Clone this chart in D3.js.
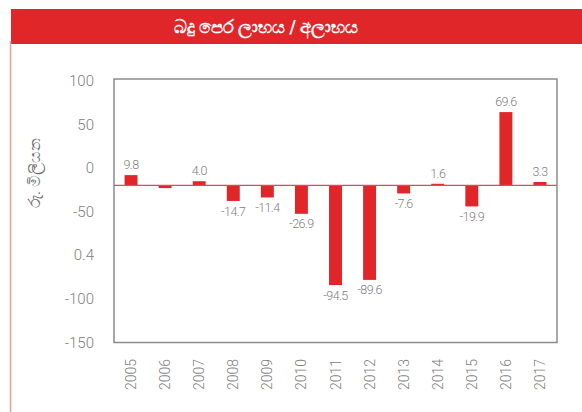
<!DOCTYPE html>
<html>
<head>
<meta charset="utf-8">
<script src="https://cdn.jsdelivr.net/npm/d3@7"></script>
<style>
  html, body { margin: 0; padding: 0; background: #fff; }
  svg { display: block; font-family: Roboto, "Noto Sans", sans-serif; }
</style>
</head>
<body>
<div id="chart"></div>
<script>
// Profit / loss before tax, Rs. million
const years = ["2005", "2006", "2007", "2008", "2009", "2010", "2011", "2012", "2013", "2014", "2015", "2016", "2017"];
const values = [9.8, -2.5, 4.0, -14.7, -11.4, -26.9, -94.5, -89.6, -7.6, 1.6, -19.9, 69.6, 3.3];
const valueLabels = ["9.8", "", "4.0", "-14.7", "-11.4", "-26.9", "-94.5", "-89.6", "-7.6", "1.6", "-19.9", "69.6", "3.3"];
// tick labels exactly as printed on the original axis
const tickLabels = ["100", "50", "0", "-50", "0.4", "-100", "-150"];
const yDomain = [-149, 101];

const title = "බදු පෙර ලාභය / අලාභය";
const yTitle = "රු. මිලියන";

const width = 582;
const height = 412;
const margin = { top: 79, right: 25, bottom: 69.5, left: 114 };
const red = "#e1262a";
const grey = "#808080";

const svg = d3.select("#chart")
  .append("svg")
  .attr("width", width)
  .attr("height", height);

// Header band
svg.append("rect")
  .attr("x", 11)
  .attr("y", 9)
  .attr("width", width - 11)
  .attr("height", 35)
  .attr("fill", red);

svg.append("text")
  .attr("x", 266)
  .attr("y", 27)
  .attr("text-anchor", "middle")
  .attr("dominant-baseline", "central")
  .attr("fill", "#fff")
  .style("font-size", "17.5px")
  .style("font-weight", "bold")
  .text(title);

// Pink rule down the left side
svg.append("line")
  .attr("x1", 10.5)
  .attr("x2", 10.5)
  .attr("y1", 41)
  .attr("y2", height)
  .attr("stroke", "#f19a9e")
  .attr("stroke-width", 1.5);

const x = d3.scaleBand()
  .domain(years)
  .range([margin.left, width - margin.right])
  .paddingInner(0.62)
  .paddingOuter(0.31);

const y = d3.scaleLinear()
  .domain(yDomain)
  .range([height - margin.bottom, margin.top]);

// Tick labels are evenly spaced top to bottom, as in the source image
const yLabel = d3.scalePoint()
  .domain(tickLabels)
  .range([margin.top + 2, height - margin.bottom]);

// Plot frame
svg.append("rect")
  .attr("x", margin.left)
  .attr("y", margin.top)
  .attr("width", width - margin.left - margin.right)
  .attr("height", height - margin.top - margin.bottom)
  .attr("fill", "none")
  .attr("stroke", "#8c8c8c")
  .attr("stroke-width", 1.5);

// Y tick labels
svg.append("g")
  .selectAll("text")
  .data(tickLabels)
  .join("text")
  .attr("x", 94)
  .attr("y", (d) => yLabel(d))
  .attr("text-anchor", "end")
  .attr("dominant-baseline", "central")
  .attr("fill", grey)
  .style("font-size", "15px")
  .style("font-weight", 300)
  .text((d) => d);

// Y axis title
svg.append("text")
  .attr("transform", "translate(35,173) rotate(-90)")
  .attr("text-anchor", "middle")
  .attr("dominant-baseline", "central")
  .attr("fill", "#6e6e6e")
  .style("font-size", "15.5px")
  .text(yTitle);

// Bars
svg.append("g")
  .selectAll("rect")
  .data(values)
  .join("rect")
  .attr("x", (d, i) => x(years[i]))
  .attr("width", x.bandwidth())
  .attr("y", (d) => y(Math.max(0, d)))
  .attr("height", (d) => Math.abs(y(d) - y(0)))
  .attr("fill", red);

// Zero line
svg.append("line")
  .attr("x1", margin.left)
  .attr("x2", width - margin.right)
  .attr("y1", y(0))
  .attr("y2", y(0))
  .attr("stroke", "#e8484b")
  .attr("stroke-width", 1.2);

// Value labels
svg.append("g")
  .selectAll("text")
  .data(values)
  .join("text")
  .attr("x", (d, i) => x(years[i]) + x.bandwidth() / 2)
  .attr("y", (d) => (d >= 0 ? y(d) - 6 : y(d) + 5))
  .attr("text-anchor", "middle")
  .attr("dominant-baseline", (d) => (d >= 0 ? "auto" : "hanging"))
  .attr("fill", grey)
  .style("font-size", "12.5px")
  .style("letter-spacing", "-0.6px")
  .style("font-weight", 300)
  .text((d, i) => valueLabels[i]);

// Year labels, rotated
svg.append("g")
  .selectAll("text")
  .data(years)
  .join("text")
  .attr("transform", (d) => `translate(${x(d) + x.bandwidth() / 2},359) rotate(-90)`)
  .attr("text-anchor", "end")
  .attr("dominant-baseline", "central")
  .attr("fill", grey)
  .style("font-size", "14px")
  .style("font-weight", 300)
  .text((d) => d);
</script>
</body>
</html>
